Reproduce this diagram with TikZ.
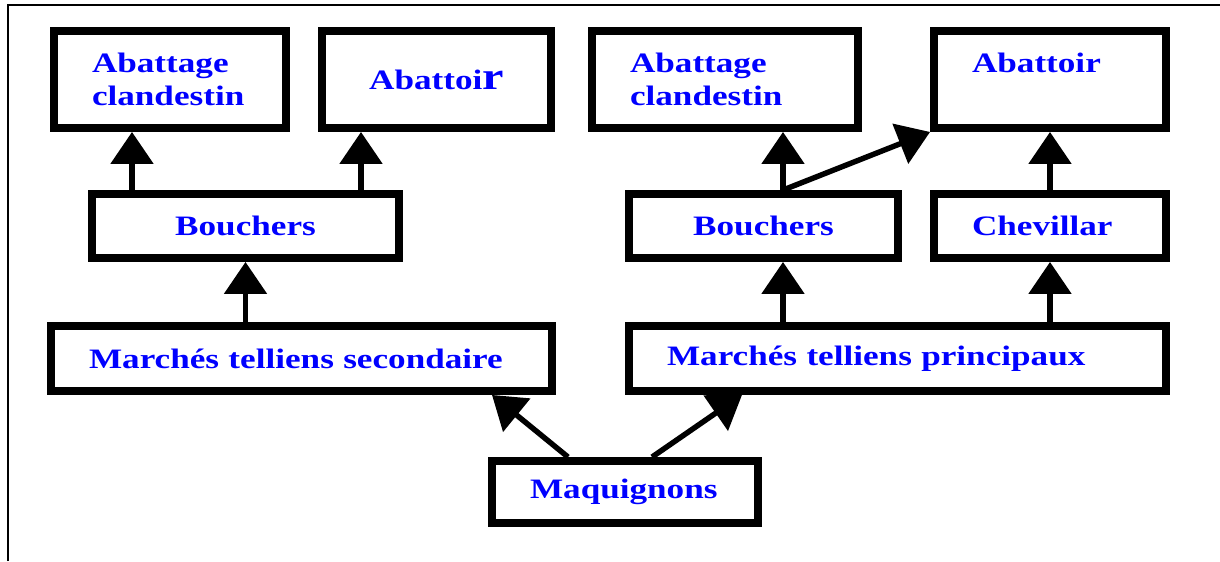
\documentclass[tikz,border=0pt]{standalone}
\usepackage{fontspec}
\setmainfont{Liberation Serif}[FakeStretch=1.25]
\usetikzlibrary{arrows.meta}

\tikzset{
	box/.style={draw, line width=4.5pt, inner xsep=0.76cm, inner ysep=0pt, align=left,
		text=blue, font=\fontsize{16}{19}\selectfont\bfseries},
	arr/.style={line width=3.1pt, -{Triangle[length=0.64cm, width=0.84cm]}},
}

\begin{document}
\begin{tikzpicture}
	\useasboundingbox (0,0) rectangle (24.4,-11.22);
	\draw[line width=0.8pt] (0.16,-11.22) |- (24.4,-0.10);

	% top row
	\node[box, text width=3.12cm, minimum height=1.94cm] (abl) at (3.40,-1.59) {Abattage\\clandestin};
	\node[box, text width=3.06cm, minimum height=1.94cm, align=center] (aboirl) at (8.73,-1.59) {Abattoi{\fontsize{22}{22}\selectfont r}};
	\node[box, text width=3.80cm, minimum height=1.94cm] (abr) at (14.50,-1.59) {Abattage\\clandestin};
	\node[box, text width=3.12cm, minimum height=1.94cm] (aboirr) at (21.00,-1.59) {Abattoir\\\phantom{clandestin}};

	% middle row
	\node[box, text width=4.62cm, minimum height=1.28cm, align=center] (boul) at (4.91,-4.52) {Bouchers};
	\node[box, text width=3.86cm, minimum height=1.28cm, align=center] (bour) at (15.27,-4.52) {Bouchers};
	\node[box, text width=3.12cm, minimum height=1.28cm] (chev) at (21.00,-4.52) {Chevillar};

	% markets
	\node[box, text width=8.50cm, minimum height=1.30cm] (msec) at (6.03,-7.17) {Marchés telliens secondaire};
	\node[box, text width=9.22cm, minimum height=1.30cm] (mpri) at (17.95,-7.17) {Marchés telliens principaux};

	\node[box, text width=3.80cm, minimum height=1.24cm] (maq) at (12.50,-9.84) {Maquignons};

	% arrows
	\draw[arr] (boul.north -| 2.64,0) -- (abl.south -| 2.64,0);
	\draw[arr] (boul.north -| 7.22,0) -- (aboirl.south -| 7.22,0);
	\draw[arr] (msec.north -| boul.south) -- (boul.south);
	\draw[arr] (bour.north -| 15.66,0) -- (abr.south -| 15.66,0);
	\draw[arr] (bour.north -| 15.66,0) -- (aboirr.south west);
	\draw[arr] (chev.north) -- (aboirr.south);
	\draw[arr] (mpri.north -| 15.66,0) -- (bour.south -| 15.66,0);
	\draw[arr] (mpri.north -| chev.south) -- (chev.south);
	\draw[arr] (maq.north -| 11.36,0) -- (msec.south -| 9.84,0);
	\draw[arr] (maq.north -| 13.04,0) -- (mpri.south -| 14.84,0);
\end{tikzpicture}
\end{document}
